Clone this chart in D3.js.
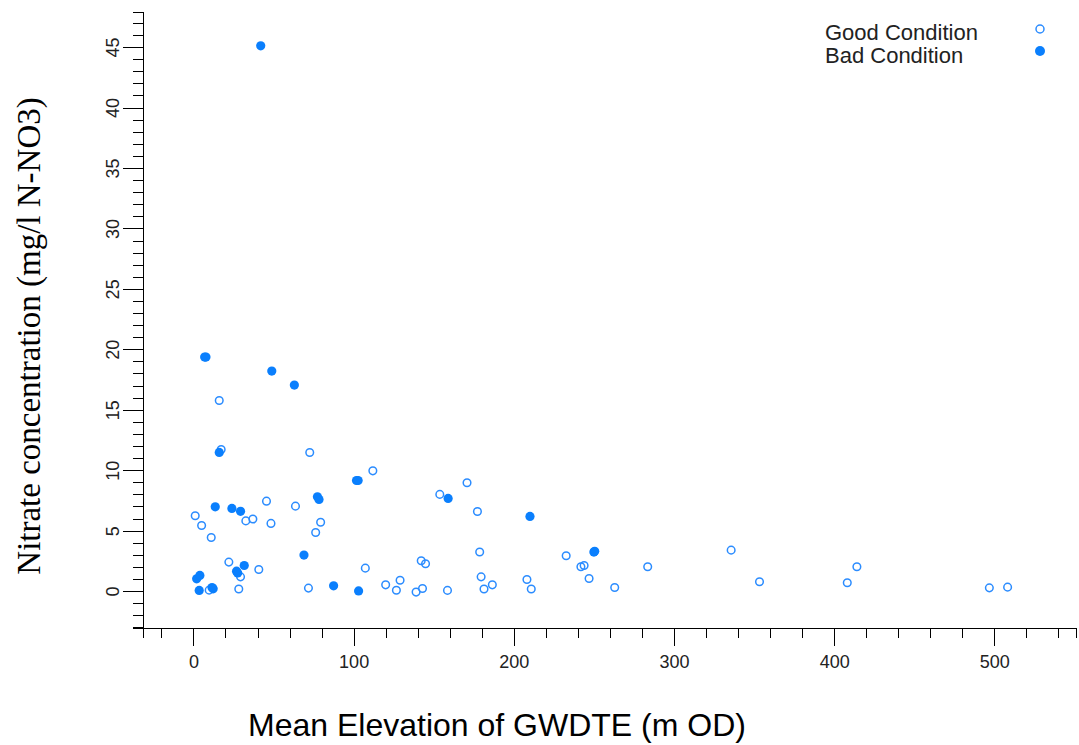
<!DOCTYPE html>
<html>
  <head>
    <title>Nitrate vs elevation</title>
    <script src="https://d3js.org/d3.v7.min.js"></script>
    <style>
      body { margin: 0; background: #fff; }
      .tick text { font-family: "Liberation Sans", Arial, sans-serif; font-size: 18px; fill: #222; }
      .axis path, .axis line { stroke: #000; shape-rendering: crispEdges; }
    </style>
  </head>
  <body>
    <svg id="chart" width="1079" height="745"></svg>
  </body>
  <script type="text/javascript">
    // [elevation (m OD), nitrate (mg/l N-NO3)]
    var goodCondition = [
      [1.1,6.23],[5.1,5.43],[11.1,4.44],[16.1,15.77],[17.3,11.72],[22.1,2.4],[29.4,1.18],
      [28.3,0.17],[9.8,0.08],[32.7,5.81],[37.1,5.96],[40.8,1.79],[45.6,7.44],[48.4,5.6],
      [63.7,7.03],[72.6,11.47],[71.8,0.25],[76.3,4.85],[79.4,5.7],[107.3,1.9],[112,9.95],
      [120,0.52],[126.7,0.07],[129,0.9],[139,-0.08],[142.2,2.51],[143,0.22],[144.9,2.26],
      [153.8,8.0],[158.6,0.06],[170.8,8.96],[177.3,6.59],[178.7,3.23],[179.6,1.18],
      [181.4,0.17],[186.6,0.52],[208.2,0.96],[210.9,0.17],[232.7,2.92],[241.9,2.01],
      [243.9,2.12],[247,1.05],[263,0.3],[283.6,2.01],[335.7,3.39],[353.4,0.77],
      [408.2,0.69],[414.2,2.01],[496.9,0.27],[508.3,0.33]
    ];
    var badCondition = [
      [42,45.1],[7.8,19.36],[7.0,19.36],[48.9,18.2],[63,17.04],[16.1,11.47],[13.6,6.97],
      [24,6.84],[29.4,6.6],[31.7,2.12],[26.9,1.65],[27.6,1.5],[2,1.02],[4,1.3],[3.6,0.06],
      [12.3,0.19],[11.6,0.3],[69,2.98],[77.4,7.8],[78.4,7.58],[87.5,0.44],[101.8,9.15],
      [102.8,9.15],[103.1,0.02],[159,7.67],[210.1,6.18],[250,3.23],[250.5,3.3]
    ];
    var xMajor = [0, 100, 200, 300, 400, 500];
    var yMajor = [0, 5, 10, 15, 20, 25, 30, 35, 40, 45];
    var legendLabels = ["Good Condition", "Bad Condition"];

    var svg = d3.select("#chart");
    var openColor = "#2b8cff", fillColor = "#0a7ffd";

    var xScale = d3.scaleLinear().domain([-31.5, 551]).range([143, 1076]);
    var yScale = d3.scaleLinear().domain([-3.05, 47.9]).range([628, 12]);

    var xMinor = d3.range(-20, 541, 20).filter(function(v){ return v % 100 !== 0; });
    var yMinor = d3.range(-3, 48, 1).filter(function(v){ return v % 5 !== 0 || v < 0; });

    // minor ticks
    svg.append("g").attr("class", "axis")
      .attr("transform", "translate(0,628)")
      .call(d3.axisBottom(xScale).tickValues(xMinor).tickSize(10).tickFormat(""));
    svg.append("g").attr("class", "axis")
      .attr("transform", "translate(143,0)")
      .call(d3.axisLeft(yScale).tickValues(yMinor).tickSize(10).tickFormat(""));

    // major ticks
    svg.append("g").attr("class", "axis")
      .attr("transform", "translate(0,628)")
      .call(d3.axisBottom(xScale).tickValues(xMajor).tickSize(18).tickSizeOuter(0).tickPadding(9));
    var yAxis = svg.append("g").attr("class", "axis")
      .attr("transform", "translate(143,0)")
      .call(d3.axisLeft(yScale).tickValues(yMajor).tickSize(20).tickSizeOuter(0));
    yAxis.selectAll(".tick text")
      .attr("x", 0).attr("dy", null)
      .attr("transform", "translate(-24,0) rotate(-90)")
      .attr("text-anchor", "middle");

    // points
    svg.append("g").selectAll("circle.good")
      .data(goodCondition).enter().append("circle")
      .attr("class", "good")
      .attr("cx", function(d){ return xScale(d[0]); })
      .attr("cy", function(d){ return yScale(d[1]); })
      .attr("r", 3.8)
      .attr("fill", "none")
      .attr("stroke", openColor)
      .attr("stroke-width", 1.5);

    svg.append("g").selectAll("circle.bad")
      .data(badCondition).enter().append("circle")
      .attr("class", "bad")
      .attr("cx", function(d){ return xScale(d[0]); })
      .attr("cy", function(d){ return yScale(d[1]); })
      .attr("r", 4.6)
      .attr("fill", fillColor);

    // legend
    var legend = svg.append("g").attr("font-family", "Liberation Sans, Arial, sans-serif");
    legendLabels.forEach(function(label, i){
      legend.append("text").attr("x", 825).attr("y", 40 + i * 23)
        .attr("font-size", "22px").attr("fill", "#222").text(label);
    });
    legend.append("circle").attr("cx", 1040).attr("cy", 29).attr("r", 4)
      .attr("fill", "none").attr("stroke", openColor).attr("stroke-width", 1.5);
    legend.append("circle").attr("cx", 1040).attr("cy", 51).attr("r", 5)
      .attr("fill", fillColor);

    // axis titles
    svg.append("text")
      .attr("transform", "translate(40,336) rotate(-90)")
      .attr("text-anchor", "middle")
      .attr("font-family", "Liberation Serif, Times New Roman, serif")
      .attr("font-size", "33px")
      .text("Nitrate concentration (mg/l N-NO3)");
    svg.append("text")
      .attr("x", 497).attr("y", 736)
      .attr("text-anchor", "middle")
      .attr("font-family", "Liberation Sans, Arial, sans-serif")
      .attr("font-size", "32px")
      .text("Mean Elevation of GWDTE (m OD)");
  </script>
</html>
